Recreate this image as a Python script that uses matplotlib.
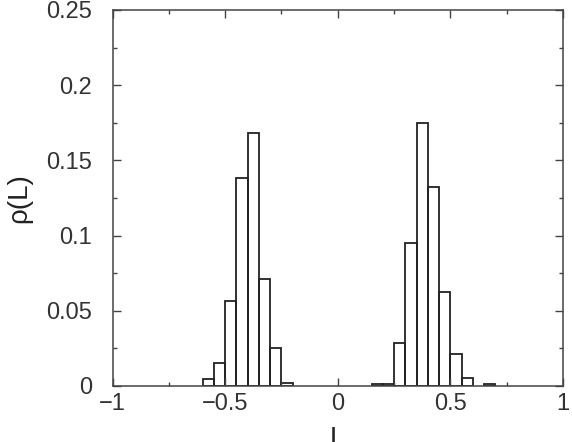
import numpy as np
import matplotlib
matplotlib.use('Agg')
import matplotlib.pyplot as plt
from matplotlib.ticker import MultipleLocator, FuncFormatter

# histogram bins (left edges) and heights, bin width 0.05
left_edges = [-0.60, -0.55, -0.50, -0.45, -0.40, -0.35, -0.30, -0.25,
              0.15, 0.20, 0.25, 0.30, 0.35, 0.40, 0.45, 0.50, 0.55, 0.65]
rho = [0.0045, 0.0151, 0.0565, 0.138, 0.168, 0.0711, 0.0255, 0.0018,
       0.001, 0.001, 0.0284, 0.0953, 0.175, 0.132, 0.0623, 0.0211, 0.0055, 0.001]
bin_width = 0.05

plt.rcParams['font.family'] = ['Liberation Sans', 'DejaVu Sans']

fig = plt.figure(figsize=(5.72, 4.42), dpi=100)
ax = fig.add_axes([0.197, 0.1267, 0.787, 0.8507])

ax.bar(left_edges, rho, width=bin_width, align='edge', fill=False,
       edgecolor='#222222', linewidth=1.3)

ax.set_xlim(-1, 1)
ax.set_ylim(0, 0.25)
ax.xaxis.set_major_locator(MultipleLocator(0.5))
ax.xaxis.set_minor_locator(MultipleLocator(0.25))
ax.yaxis.set_major_locator(MultipleLocator(0.05))
ax.yaxis.set_minor_locator(MultipleLocator(0.025))

fmt = FuncFormatter(lambda v, p: ('%g' % round(v, 4)).replace('-', '\u2212'))
ax.xaxis.set_major_formatter(fmt)
ax.yaxis.set_major_formatter(fmt)

ax.tick_params(which='both', direction='in', top=True, right=True,
               labelsize=17, color='#444444', labelcolor='#333333')
ax.tick_params(which='major', length=6, width=1)
ax.tick_params(which='minor', length=3, width=1)
ax.tick_params(axis='y', pad=15)
ax.tick_params(axis='x', pad=5)
for s in ax.spines.values():
    s.set_color('#444444')
    s.set_linewidth(1.1)

ax.set_xlabel('L', fontsize=20, labelpad=8, color='#222222')
ax.set_ylabel('\u03c1(L)', fontsize=20, labelpad=10, color='#222222')

fig.savefig('out.png', dpi=100)
